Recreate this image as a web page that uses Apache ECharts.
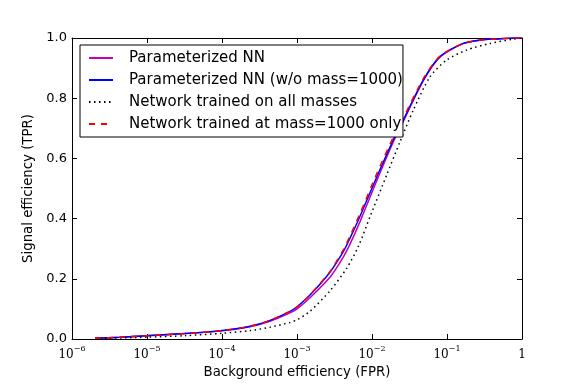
<!DOCTYPE html>
<html>
<head>
<meta charset="utf-8">
<script src="https://cdn.jsdelivr.net/npm/echarts@6/dist/echarts.min.js"></script>
<style>
  html, body { margin: 0; padding: 0; background: #fff; }
  #chart { width: 581px; height: 388px; }
</style>
</head>
<body>
<div id="chart"></div>
<script>
// ROC curves: [background efficiency (FPR), signal efficiency (TPR)]
const seriesNames = [
  'Parameterized NN',
  'Parameterized NN (w/o mass=1000)',
  'Network trained on all masses',
  'Network trained at mass=1000 only'
];

const fprMain = [2.03e-6, 4.37e-6, 1e-5, 3.21e-5, 1e-4, 2.36e-4, 4.37e-4, 8.07e-4, 1e-3, 1.49e-3,
  2.75e-3, 4.14e-3, 5.09e-3, 6.92e-3, 1.16e-2, 1.92e-2, 2.36e-2, 4.83e-2, 8.07e-2, 0.165, 0.275, 0.46, 0.76, 1];
const tprParamNN = [0.003, 0.006, 0.011, 0.018, 0.027, 0.041, 0.059, 0.087, 0.100, 0.137,
  0.205, 0.272, 0.315, 0.390, 0.527, 0.655, 0.700, 0.858, 0.937, 0.982, 0.993, 0.997, 1.0, 1.0];
const tprParamNoMass = [0.003, 0.006, 0.011, 0.018, 0.028, 0.042, 0.062, 0.092, 0.107, 0.146,
  0.222, 0.290, 0.335, 0.408, 0.539, 0.661, 0.705, 0.860, 0.938, 0.982, 0.993, 0.997, 1.0, 1.0];
const tprMass1000 = [0.003, 0.006, 0.011, 0.018, 0.028, 0.042, 0.062, 0.092, 0.106, 0.147,
  0.224, 0.296, 0.342, 0.417, 0.550, 0.670, 0.712, 0.865, 0.940, 0.982, 0.993, 0.997, 1.0, 1.0];

const fprAll = [2.36e-6, 1e-5, 3.21e-5, 1e-4, 2.36e-4, 4.37e-4, 8.07e-4, 1e-3, 1.49e-3, 2.75e-3,
  4.6e-3, 6.56e-3, 9.4e-3, 1.57e-2, 2.36e-2, 3.56e-2, 5.93e-2, 9.91e-2, 0.183, 0.374, 0.76, 1];
const tprAll = [0.002, 0.006, 0.011, 0.019, 0.028, 0.039, 0.055, 0.064, 0.092, 0.160,
  0.235, 0.307, 0.406, 0.545, 0.655, 0.761, 0.871, 0.927, 0.960, 0.982, 0.996, 1.0];

const zip = (xs, ys) => xs.map((x, i) => [x, ys[i]]);

const chart = echarts.init(document.getElementById('chart'), null, { renderer: 'canvas' });

const sansFont = 'DejaVu Sans';
const tickStyle = { show: true, inside: true, length: 5, lineStyle: { color: '#000', width: 1 } };
const lineAxis = { show: true, onZero: false, lineStyle: { color: '#000', width: 1 } };

const makeSeries = (name, xs, ys, color, type) => ({
  name: name,
  type: 'line',
  symbol: 'none',
  smooth: 0.25,
  data: zip(xs, ys),
  lineStyle: { color: color, width: 1.5, type: type || 'solid' },
  itemStyle: { color: color }
});

const option = {
  animation: false,
  backgroundColor: '#fff',
  textStyle: { fontFamily: sansFont },
  grid: { left: 72, right: 59, top: 38, bottom: 49, containLabel: false },
  legend: {
    left: 80,
    top: 45,
    orient: 'vertical',
    backgroundColor: '#fff',
    borderColor: '#000',
    borderWidth: 1,
    borderRadius: 0,
    padding: [4, 0, 4, 8],
    itemWidth: 24,
    itemHeight: 14,
    itemGap: 4,
    itemStyle: { opacity: 0 },
    textStyle: { fontFamily: sansFont, fontSize: 15, lineHeight: 18, color: '#000', padding: [0, 0, 0, 11] },
    data: seriesNames
  },
  xAxis: [
    {
      type: 'log',
      logBase: 10,
      min: 1e-6,
      max: 1,
      interval: 1,
      name: 'Background efficiency (FPR)',
      nameLocation: 'middle',
      nameGap: 25,
      nameTextStyle: { fontFamily: sansFont, fontSize: 13.3, color: '#000' },
      axisLine: lineAxis,
      axisTick: tickStyle,
      splitLine: { show: false },
      minorTick: { show: false },
      axisLabel: {
        margin: 6,
        color: '#000',
        formatter: function (v) {
          const e = Math.round(Math.log10(v));
          if (e === 0) return '{b|1}';
          return '{b|10}{s|' + (e < 0 ? '\u2212' + (-e) : e) + '}';
        },
        rich: {
          b: { fontFamily: 'DejaVu Serif', fontSize: 12, color: '#000', lineHeight: 16, verticalAlign: 'bottom' },
          s: { fontFamily: 'DejaVu Serif', fontSize: 8, color: '#000', lineHeight: 16, verticalAlign: 'top' }
        }
      }
    },
    {
      type: 'log',
      logBase: 10,
      min: 1e-6,
      max: 1,
      interval: 1,
      position: 'top',
      axisLine: lineAxis,
      axisTick: tickStyle,
      axisLabel: { show: false },
      splitLine: { show: false }
    }
  ],
  yAxis: [
    {
      type: 'value',
      min: 0,
      max: 1,
      interval: 0.2,
      name: 'Signal efficiency (TPR)',
      nameLocation: 'middle',
      nameGap: 27,
      nameTextStyle: { fontFamily: sansFont, fontSize: 13.3, color: '#000' },
      axisLine: lineAxis,
      axisTick: tickStyle,
      splitLine: { show: false },
      axisLabel: {
        margin: 5,
        color: '#000',
        fontFamily: sansFont,
        fontSize: 13,
        formatter: v => v.toFixed(1)
      }
    },
    {
      type: 'value',
      min: 0,
      max: 1,
      interval: 0.2,
      position: 'right',
      axisLine: lineAxis,
      axisTick: tickStyle,
      axisLabel: { show: false },
      splitLine: { show: false }
    }
  ],
  series: [
    makeSeries(seriesNames[0], fprMain, tprParamNN, '#bf00bf'),
    makeSeries(seriesNames[1], fprMain, tprParamNoMass, '#0000ff'),
    makeSeries(seriesNames[2], fprAll, tprAll, '#000000', [1.5, 3.5]),
    makeSeries(seriesNames[3], fprMain, tprMass1000, '#ff0000', [6, 6])
  ]
};

chart.setOption(option);
</script>
</body>
</html>
